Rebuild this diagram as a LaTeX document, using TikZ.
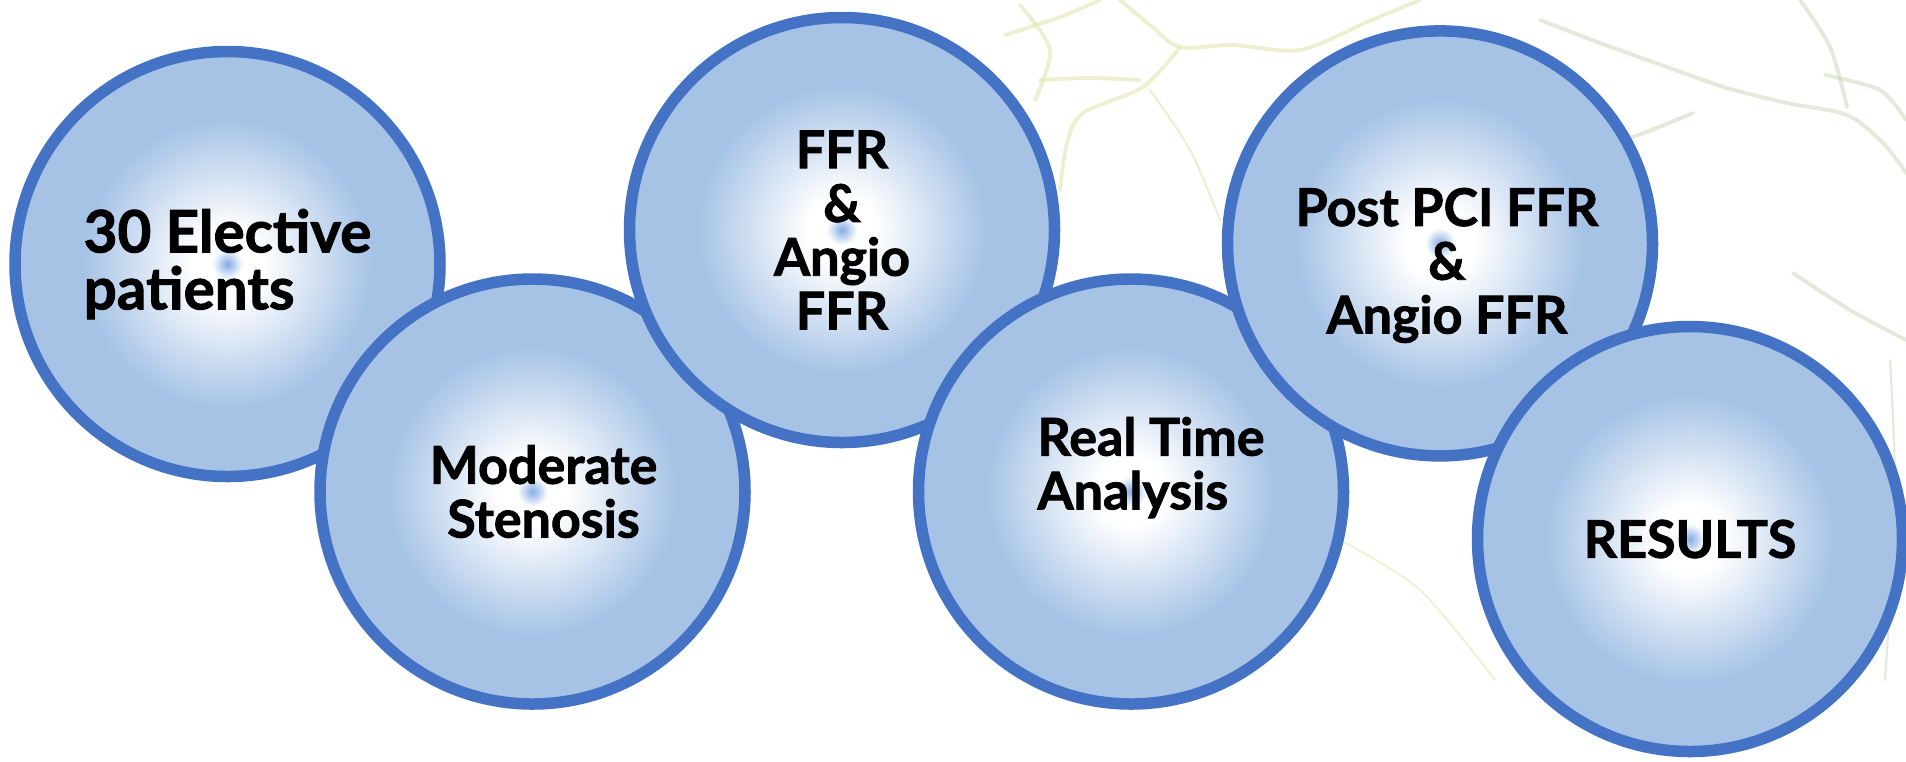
\documentclass[tikz,border=0pt]{standalone}
\usepackage{fontspec}
\setmainfont{Lato}[BoldFeatures={FakeBold=1.6}]
\usepackage{tikz}

\definecolor{ringblue}{HTML}{4472C4}
\definecolor{bubblefill}{HTML}{A6C3E6}
\definecolor{dotblue}{HTML}{86ACE4}
\definecolor{veinyellow}{HTML}{E2E5B0}
\definecolor{veingreen}{HTML}{D2DAC0}

\pgfdeclareradialshading{bubble}{\pgfpoint{0bp}{0bp}}{color(0bp)=(dotblue); color(1.8bp)=(white); color(4bp)=(white); color(17bp)=(bubblefill); color(50bp)=(bubblefill)}

\begin{document}
\begin{tikzpicture}
	\useasboundingbox (0,0) rectangle (19.06,-7.61);

	\begin{scope}[line width=1.1pt, line cap=round, color=veinyellow, opacity=0.6]
		\draw plot[smooth] coordinates {(10.05,-0.35) (10.6,-0.17) (11.0,0)};
		\draw plot[smooth] coordinates {(11.2,0) (11.5,-0.25) (11.8,-0.47) (12.33,-0.45) (13.0,-0.5) (13.67,-0.22) (14.2,0)};
		\draw plot[smooth] coordinates {(11.8,-0.47) (11.43,-0.87) (10.83,-1.13) (10.67,-1.43) (10.6,-1.9)};
		\draw plot[smooth] coordinates {(10.4,-0.8) (10.9,-0.78) (11.4,-0.8)};
		\draw plot[smooth] coordinates {(10.2,-0.05) (10.5,-0.5) (10.35,-1.0)};
		\draw[line width=0.6pt] plot[smooth] coordinates {(11.5,-0.9) (11.9,-1.5) (12.2,-2.2)};
		\draw[line width=0.6pt, opacity=0.5] plot[smooth] coordinates {(13.4,-5.4) (14.2,-5.9) (14.95,-6.8)};
	\end{scope}

	\begin{scope}[line width=1.1pt, line cap=round, color=veingreen, opacity=0.6]
		\draw plot[smooth] coordinates {(15.4,-0.2) (16.0,-0.43) (16.67,-0.67) (17.27,-0.88) (17.87,-1.03) (18.47,-1.15) (18.83,-1.43) (19.06,-1.73)};
		\draw plot[smooth] coordinates {(18.0,0) (18.3,-0.47) (18.47,-1.07)};
		\draw plot[smooth] coordinates {(16.93,-1.13) (16.33,-1.37) (15.8,-1.5)};
		\draw plot[smooth] coordinates {(17.93,-2.73) (18.5,-3.1) (19.06,-3.4)};
		\draw plot[smooth] coordinates {(18.25,-0.75) (18.8,-0.9) (19.06,-1.2)};
		\draw[line width=0.6pt] plot[smooth] coordinates {(18.9,-3.6) (18.95,-5.0) (18.85,-6.8)};
	\end{scope}

	\begin{scope}[every node/.style={circle, draw=ringblue, line width=0.115cm, minimum size=4.25cm, inner sep=0pt, shading=bubble}]
		\node (1) at (2.275,-2.64) {};
		\node (2) at (5.325,-4.915) {};
		\node (3) at (8.42,-2.30) {};
		\node (4) at (11.31,-4.915) {};
		\node (5) at (14.40,-2.434) {};
		\node (6) at (16.90,-5.39) {};
	\end{scope}

	\begin{scope}[every node/.style={font=\fontsize{14.8}{15.3}\selectfont\bfseries, inner sep=0pt, align=center}]
		\node[align=left, font=\fontsize{16.6}{16.2}\selectfont\bfseries] (t1) at (1) {30 Elective\\patients};
		\node[xshift=1.1mm] (t2) at (2) {Moderate\\Stenosis};
		\node (t3) at (3) {FFR\\\&\\Angio\\FFR};
		\node[align=left, xshift=2mm, yshift=2.4mm] (t4) at (4) {Real Time\\Analysis};
		\node[xshift=0.7mm, yshift=-2.2mm] (t5) at (5) {Post PCI FFR\\\&\\Angio FFR};
		\node (t6) at (6) {RESULTS};
	\end{scope}
\end{tikzpicture}
\end{document}
